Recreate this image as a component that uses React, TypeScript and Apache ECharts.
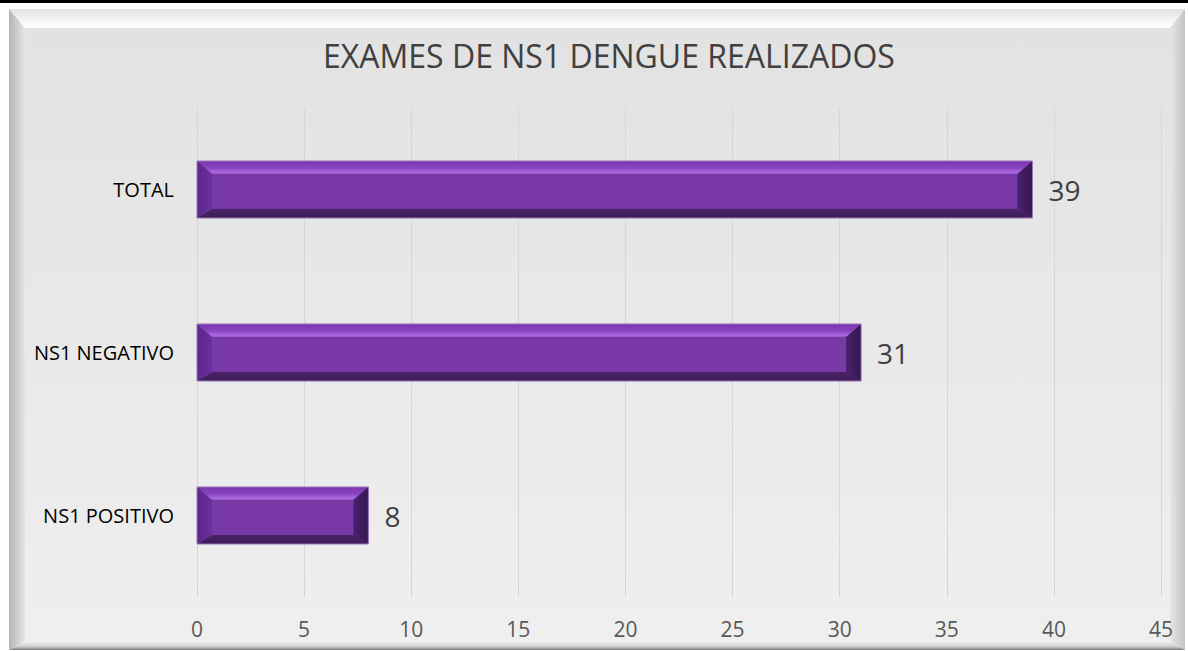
import React, { useEffect, useRef } from "react";
import * as echarts from "echarts";

const categories = ["NS1 POSITIVO", "NS1 NEGATIVO", "TOTAL"];
const values = [8, 31, 39];
const xTicks = { min: 0, max: 45, interval: 5 };
const titleText = "EXAMES DE NS1 DENGUE REALIZADOS";

const FONT = "'Open Sans', 'Noto Sans', sans-serif";

export default function App() {
  const ref = useRef<HTMLDivElement>(null);
  useEffect(() => {
    const chart = echarts.init(ref.current!, null, { renderer: "svg" });
    const W = 1188, H = 651;
    const L = 9, R = 1185, T = 9, B = 650;
    const iL = 25, iR = 1170, iT = 28, iB = 641;
    const data = values.map((v, i) => [v, i]);
    chart.setOption({
      animation: false,
      backgroundColor: "#ffffff",
      title: {
        text: titleText,
        left: 318,
        top: 34,
        textStyle: { fontFamily: FONT, fontSize: 32, fontWeight: "normal", color: "#404040" },
      },
      graphic: [
        { type: "rect", z: -10, shape: { x: 0, y: 0, width: W, height: 3 }, style: { fill: "#000" } },
        {
          type: "polygon", z: -10,
          shape: { points: [[L, T], [R, T], [iR, iT], [iL, iT]] },
          style: { fill: new echarts.graphic.LinearGradient(0, 0, 0, 1, [{ offset: 0, color: "#e2e2e2" }, { offset: 0.5, color: "#f2f2f2" }, { offset: 1, color: "#ffffff" }]) },
        },
        {
          type: "polygon", z: -10,
          shape: { points: [[L, T], [iL, iT], [iL, iB], [L, B]] },
          style: { fill: new echarts.graphic.LinearGradient(0, 0, 1, 0, [{ offset: 0, color: "#b4b4b4" }, { offset: 1, color: "#e6e6e6" }]) },
        },
        {
          type: "polygon", z: -10,
          shape: { points: [[R, T], [R, B], [iR, iB], [iR, iT]] },
          style: { fill: new echarts.graphic.LinearGradient(0, 0, 1, 0, [{ offset: 0, color: "#e6e6e6" }, { offset: 1, color: "#c4c4c4" }]) },
        },
        {
          type: "polygon", z: -10,
          shape: { points: [[L, B], [iL, iB], [iR, iB], [R, B]] },
          style: { fill: new echarts.graphic.LinearGradient(0, 0, 0, 1, [{ offset: 0, color: "#f2f2f2" }, { offset: 0.6, color: "#d0d0d0" }, { offset: 1, color: "#7a7a7a" }]) },
        },
        {
          type: "rect", z: -10,
          shape: { x: iL, y: iT, width: iR - iL, height: iB - iT },
          style: { fill: new echarts.graphic.LinearGradient(0, 0, 0, 1, [{ offset: 0, color: "#e2e2e2" }, { offset: 1, color: "#efefef" }]) },
        },
      ],
      grid: { left: 197, right: 27, top: 108, bottom: 54, containLabel: false },
      xAxis: {
        type: "value",
        min: xTicks.min,
        max: xTicks.max,
        interval: xTicks.interval,
        axisLine: { show: false },
        axisTick: { show: false },
        splitLine: { show: true, lineStyle: { color: "#d6d6d6", width: 1 } },
        axisLabel: { margin: 21, fontFamily: FONT, fontSize: 21, color: "#595959" },
      },
      yAxis: {
        type: "category",
        data: categories,
        axisLine: { show: false },
        axisTick: { show: false },
        axisLabel: { margin: 23, fontFamily: FONT, fontSize: 20, color: "#000000" },
      },
      series: [
        {
          type: "custom",
          data,
          encode: { x: 0, y: 1 },
          renderItem: (params: any, api: any) => {
            const v = api.value(0);
            const idx = api.value(1);
            const end = api.coord([v, idx]);
            const start = api.coord([0, idx]);
            const band = api.size([0, 1])[1];
            const h = band * 0.35;
            const x0 = start[0], x1 = end[0];
            const y0 = end[1] - h / 2, y1 = end[1] + h / 2;
            const bx = 15, bt = 13, bb = 9;
            return {
              type: "group",
              children: [
                { type: "rect", shape: { x: x0, y: y0, width: x1 - x0, height: y1 - y0 }, style: { fill: "#7838a6" } },
                {
                  type: "polygon",
                  shape: { points: [[x0, y0], [x1, y0], [x1 - bx, y0 + bt], [x0 + bx, y0 + bt]] },
                  style: { fill: new echarts.graphic.LinearGradient(0, 0, 0, 1, [{ offset: 0, color: "#7c34b0" }, { offset: 0.55, color: "#8a45c0" }, { offset: 0.85, color: "#a86ade" }, { offset: 1, color: "#9858cc" }]) },
                },
                {
                  type: "polygon",
                  shape: { points: [[x0, y1], [x1, y1], [x1 - bx, y1 - bb], [x0 + bx, y1 - bb]] },
                  style: { fill: new echarts.graphic.LinearGradient(0, 0, 0, 1, [{ offset: 0, color: "#4a2468" }, { offset: 1, color: "#3c1c56" }]) },
                },
                {
                  type: "polygon",
                  shape: { points: [[x0, y0], [x0 + bx, y0 + bt], [x0 + bx, y1 - bb], [x0, y1]] },
                  style: { fill: new echarts.graphic.LinearGradient(0, 0, 1, 0, [{ offset: 0, color: "#5a2888" }, { offset: 1, color: "#6a30a0" }]) },
                },
                {
                  type: "polygon",
                  shape: { points: [[x1, y0], [x1, y1], [x1 - bx, y1 - bb], [x1 - bx, y0 + bt]] },
                  style: { fill: new echarts.graphic.LinearGradient(0, 0, 1, 0, [{ offset: 0, color: "#4a2270" }, { offset: 1, color: "#341650" }]) },
                },
                {
                  type: "rect",
                  shape: { x: x0, y: y0, width: x1 - x0, height: y1 - y0 },
                  style: { fill: "none", stroke: "#9a78b8", lineWidth: 1 },
                },
                {
                  type: "text",
                  x: x1 + 16,
                  y: end[1],
                  style: {
                    text: String(v),
                    fontFamily: FONT,
                    fontSize: 28,
                    fill: "#404040",
                    verticalAlign: "middle",
                    align: "left",
                  },
                },
              ],
            };
          },
        },
      ],
    });
    return () => chart.dispose();
  }, []);
  return (
    <div
      ref={ref}
      style={{ position: "absolute", left: 0, top: 0, width: 1188, height: 651 }}
    />
  );
}
